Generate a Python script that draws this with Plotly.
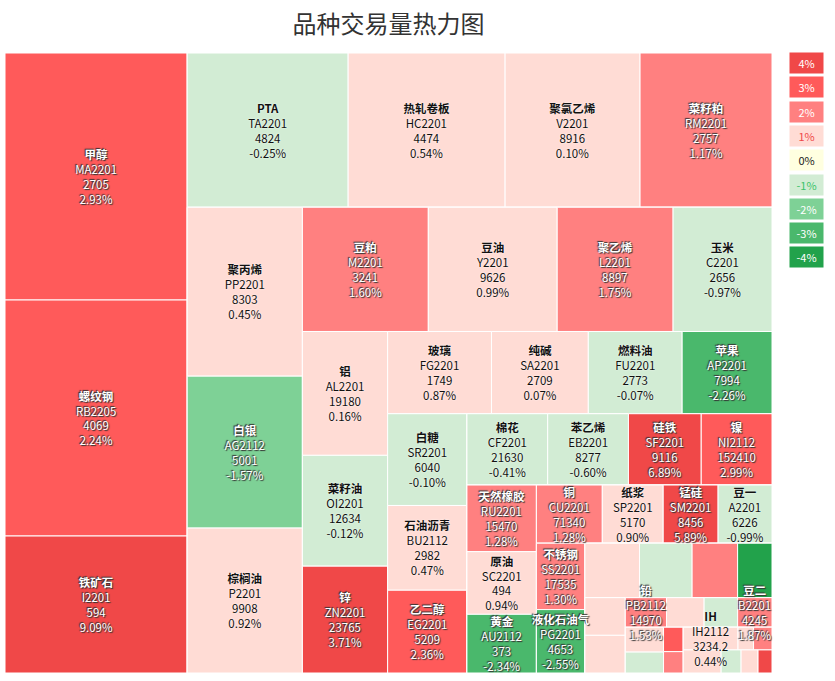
import plotly.graph_objects as go

# contracts, listed strip by strip in the squarified layout (largest first)
names = ["甲醇", "螺纹钢", "铁矿石",
         "PTA", "热轧卷板", "聚氯乙烯", "菜籽粕",
         "聚丙烯", "白银", "棕榈油",
         "豆粕", "豆油", "聚乙烯", "玉米",
         "铝", "菜籽油", "锌",
         "玻璃", "纯碱", "燃料油", "苹果",
         "白糖", "石油沥青", "乙二醇",
         "棉花", "苯乙烯", "硅铁", "镍",
         "天然橡胶", "原油", "黄金",
         "铜", "纸浆", "锰硅", "豆一",
         "不锈钢", "液化石油气",
         "铅", "豆二", "IH"]
codes = ["MA2201", "RB2205", "I2201",
         "TA2201", "HC2201", "V2201", "RM2201",
         "PP2201", "AG2112", "P2201",
         "M2201", "Y2201", "L2201", "C2201",
         "AL2201", "OI2201", "ZN2201",
         "FG2201", "SA2201", "FU2201", "AP2201",
         "SR2201", "BU2112", "EG2201",
         "CF2201", "EB2201", "SF2201", "NI2112",
         "RU2201", "SC2201", "AU2112",
         "CU2201", "SP2201", "SM2201", "A2201",
         "SS2201", "PG2201",
         "PB2112", "B2201", "IH2112"]
prices = ["2705", "4069", "594",
          "4824", "4474", "8916", "2757",
          "8303", "5001", "9908",
          "3241", "9626", "8897", "2656",
          "19180", "12634", "23765",
          "1749", "2709", "2773", "7994",
          "6040", "2982", "5209",
          "21630", "8277", "9116", "152410",
          "15470", "494", "373",
          "71340", "5170", "8456", "6226",
          "17535", "4653",
          "14970", "4245", "3234.2"]
pcts = [2.93, 2.24, 9.09,
        -0.25, 0.54, 0.10, 1.17,
        0.45, -1.57, 0.92,
        1.60, 0.99, 1.75, -0.97,
        0.16, -0.12, 3.71,
        0.87, 0.07, -0.07, -2.26,
        -0.10, 0.47, 2.36,
        -0.41, -0.60, 6.89, 2.99,
        1.28, 0.94, -2.34,
        1.28, 0.90, 5.89, -0.99,
        1.30, -2.55,
        1.53, 1.87, 0.44]
volumes = [44954, 42952, 24934,
           24794, 24178, 20790, 20328,
           19435, 17480, 16675,
           15624, 15996, 14384, 12276,
           10540, 9435, 9095,
           8528, 7954, 7708, 7380,
           7268, 6715, 6557,
           5751, 5751, 5183, 5041,
           4623, 4347, 4071,
           3828, 3538, 3190, 3132,
           3216, 3072,
           1218, 1015, 1242]

# small tiles whose labels are not shown in the chart
other_ids = [f"其他{i}" for i in range(1, 19)]
other_volumes = [2970, 2860, 2475, 1870, 1520, 1520, 1110, 990, 950,
                 798, 480, 420, 352, 418, 874, 460, 391, 322]
other_pcts = [0.5, -0.5, 1.5, -3.5, 0.5, 0.5, 0.5, -0.5, 0.5,
              -0.5, 2.5, 1.5, 0.5, 1.5, 0.5, -0.5, 0.5, 3.5]

# strips of the layout ("v" = column, "h" = row)
strips = [
    (["甲醇", "螺纹钢", "铁矿石"], "v"),
    (["PTA", "热轧卷板", "聚氯乙烯", "菜籽粕"], "h"),
    (["聚丙烯", "白银", "棕榈油"], "v"),
    (["豆粕", "豆油", "聚乙烯", "玉米"], "h"),
    (["铝", "菜籽油", "锌"], "v"),
    (["玻璃", "纯碱", "燃料油", "苹果"], "h"),
    (["白糖", "石油沥青", "乙二醇"], "v"),
    (["棉花", "苯乙烯", "硅铁", "镍"], "h"),
    (["天然橡胶", "原油", "黄金"], "v"),
    (["铜", "纸浆", "锰硅", "豆一"], "h"),
    (["不锈钢", "液化石油气"], "v"),
    (["其他1", "其他2", "其他3", "其他4"], "h"),
    (["其他5", "其他6"], "v"),
    (["铅", "其他7", "其他8", "豆二"], "h"),
    (["其他9", "其他10"], "v"),
    (["其他11", "其他12"], "v"),
    (["IH", "其他13", "其他14"], "h"),
    (["其他15", "其他16", "其他17", "其他18"], "h"),
]

legend_labels = ["4%", "3%", "2%", "1%", "0%", "-1%", "-2%", "-3%", "-4%"]
legend_colors = ["#F04848", "#FF5A5A", "#FF8080", "#FFDCD5", "#FFFFE0",
                 "#D2ECD4", "#7ED196", "#4AB86C", "#22A24B"]
legend_text = ["#FFFFFF", "#FFFFFF", "#FFFFFF", "#F04848", "#222222",
               "#3CC36A", "#FFFFFF", "#FFFFFF", "#FFFFFF"]


def bucket(p):
    if p > 3:
        return 0
    if p > 2:
        return 1
    if p > 1:
        return 2
    if p > 0:
        return 3
    if p == 0:
        return 4
    if p >= -1:
        return 5
    if p >= -2:
        return 6
    if p >= -3:
        return 7
    return 8


DARK = {0, 1, 2, 6, 7, 8}

leaf = {}
for n, c, pr, p, v in zip(names, codes, prices, pcts, volumes):
    leaf[n] = dict(label=n, value=v, pct=p,
                   text=f"<b>{n}</b><br>{c}<br>{pr}<br>{p:.2f}%")
for i, v, p in zip(other_ids, other_volumes, other_pcts):
    leaf[i] = dict(label="", value=v, pct=p, text="")

# build the nested strips so slice-dice packing reproduces the squarified layout
ids, labels, parents, values, texts, colors, fcolors, shadows = ([] for _ in range(8))


def add(node_id, label, parent, value, text, color, fcolor, shadow):
    ids.append(node_id)
    labels.append(label)
    parents.append(parent)
    values.append(value)
    texts.append(text)
    colors.append(color)
    fcolors.append(fcolor)
    shadows.append(shadow)


add("root", "", "", 0, "", "#FFFFFF", "#111111", "none")
container = "root"
for k, (members, direction) in enumerate(strips):
    gid = f"g{k}"
    add(gid, "", container, 0, "", "#FFFFFF", "#111111", "none")
    for m in members:
        d = leaf[m]
        b = bucket(d["pct"])
        add(m, d["label"], gid, d["value"], d["text"], legend_colors[b],
            "#FFFFFF" if b in DARK else "#111111",
            "1px 1px 1px #333, -1px -1px 1px #333" if b in DARK
            else "0px 0px 2px #FFFFFF")
    if k + 1 < len(strips) and strips[k + 1][1] != direction:
        rid = f"r{k}"
        add(rid, "", container, 0, "", "#FFFFFF", "#111111", "none")
        container = rid

fig = go.Figure(go.Treemap(
    ids=ids, labels=labels, parents=parents, values=values,
    branchvalues="remainder", sort=False,
    text=texts, textinfo="text", hoverinfo="text",
    textposition="middle center",
    textfont=dict(family="Noto Sans CJK SC", size=11.5, color=fcolors,
                  shadow=shadows),
    marker=dict(colors=colors, line=dict(color="#FFFFFF", width=1),
                pad=dict(t=0, l=0, r=0, b=0)),
    tiling=dict(packing="slice-dice", pad=0),
    pathbar=dict(visible=False),
))

W, H = 835, 681
L, R, T, B = 5, 63, 53, 8
pw, ph = W - L - R, H - T - B

annotations = []
for i, (lab, col, tc) in enumerate(zip(legend_labels, legend_colors, legend_text)):
    cy = 63 + i * 24.3
    annotations.append(dict(
        x=(806.5 - L) / pw, y=1 - (cy - T) / ph, xref="paper", yref="paper",
        text=lab, showarrow=False, width=33, height=20, bgcolor=col,
        borderpad=0, font=dict(size=11, color=tc), xanchor="center",
        yanchor="middle",
    ))

fig.update_layout(
    width=W, height=H,
    margin=dict(l=L, r=R, t=T, b=B),
    paper_bgcolor="#FFFFFF",
    font=dict(family="Noto Sans CJK SC, Noto Sans, sans-serif", color="#333333"),
    title=dict(text="品种交易量热力图", x=(L + pw / 2) / W, xanchor="center",
               y=1 - 25 / H, yanchor="middle",
               font=dict(size=24, color="#333333")),
    uniformtext=dict(minsize=11.5, mode="show"),
    annotations=annotations,
)

# no page margin; keep tile labels above neighbouring tiles when they overflow
post = """
document.body.style.margin = '0px';
var tr = document.querySelector('.treemaplayer .trace');
if (tr) {
  var top = document.createElementNS('http://www.w3.org/2000/svg', 'g');
  tr.appendChild(top);
  tr.querySelectorAll('g.slicetext').forEach(function (t) { top.appendChild(t); });
}
"""
fig.write_html("out.html", config={"displayModeBar": False}, post_script=post)
